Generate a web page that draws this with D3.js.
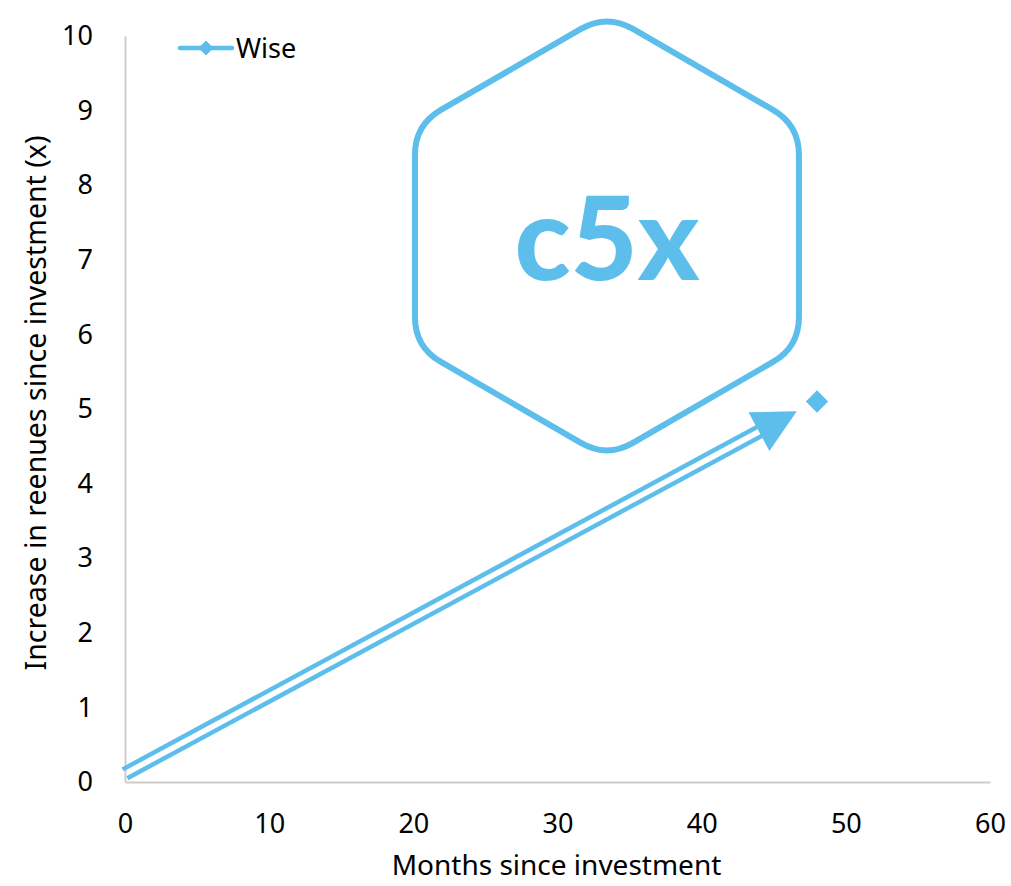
<!DOCTYPE html>
<html>
<head>
<meta charset="utf-8">
<script src="https://cdn.jsdelivr.net/npm/d3@7"></script>
<style>
  html, body { margin: 0; padding: 0; background: #fff; }
  svg { display: block; }
</style>
</head>
<body>
<svg id="chart" width="1011" height="886"></svg>
<script>
// ---- data ----
const seriesName = "Wise";
const months = [48];
const revenueMultiple = [5.1];
const xTicks = [0, 10, 20, 30, 40, 50, 60];
const yTicks = [0, 1, 2, 3, 4, 5, 6, 7, 8, 9, 10];
const xTitle = "Months since investment";
const yTitle = "Increase in reenues since investment (x)";
const badgeText = "c5x";
const arrowFrom = [0, 0.11];
const arrowTo = [46.6, 4.97];
const badgeCenter = [33.43, 7.32];

// ---- layout ----
const color = "#5EBEEB";
const axisColor = "#D0CCCC";
const font = "'Noto Sans', 'Open Sans', sans-serif";
const svg = d3.select("#chart");
const x = d3.scaleLinear().domain([0, 60]).range([125, 990]);
const y = d3.scaleLinear().domain([0, 10]).range([782, 36]);

// axes
const xAxis = svg.append("g").attr("transform", `translate(0,${y(0)})`)
  .call(d3.axisBottom(x).tickValues(xTicks).tickSize(0).tickPadding(32).tickFormat(d3.format("d")));
const yAxis = svg.append("g").attr("transform", `translate(${x(0)},0)`)
  .call(d3.axisLeft(y).tickValues(yTicks).tickSize(0).tickPadding(32).tickFormat(d3.format("d")));
[xAxis, yAxis].forEach(g => {
  g.select(".domain").attr("stroke", axisColor).attr("stroke-width", 2);
  g.selectAll("text").attr("font-family", font).attr("font-size", 27).attr("fill", "#000");
});

// axis titles
svg.append("text").attr("x", (x(0) + x(60)) / 2 - 1).attr("y", 875)
  .attr("text-anchor", "middle").attr("font-family", font).attr("font-size", 28)
  .attr("fill", "#000").text(xTitle);
svg.append("text").attr("transform", `translate(46,${(y(0) + y(10)) / 2 - 6}) rotate(-90)`)
  .attr("text-anchor", "middle").attr("font-family", font).attr("font-size", 28.5)
  .attr("fill", "#000").text(yTitle);

// hexagon badge
const cx = x(badgeCenter[0]), cy = y(badgeCenter[1]);
const hr = 222, hw = 192, r = 30;
const verts = [
  [cx, cy - hr], [cx + hw, cy - hr / 2], [cx + hw, cy + hr / 2],
  [cx, cy + hr], [cx - hw, cy + hr / 2], [cx - hw, cy - hr / 2]
];
function roundedPoly(pts, rad) {
  let d = "";
  const n = pts.length;
  for (let i = 0; i < n; i++) {
    const p0 = pts[(i - 1 + n) % n], p1 = pts[i], p2 = pts[(i + 1) % n];
    const v1 = [p0[0] - p1[0], p0[1] - p1[1]], v2 = [p2[0] - p1[0], p2[1] - p1[1]];
    const l1 = Math.hypot(...v1), l2 = Math.hypot(...v2);
    const a = [p1[0] + v1[0] / l1 * rad, p1[1] + v1[1] / l1 * rad];
    const b = [p1[0] + v2[0] / l2 * rad, p1[1] + v2[1] / l2 * rad];
    d += (i === 0 ? "M" : "L") + a[0] + "," + a[1] + "Q" + p1[0] + "," + p1[1] + " " + b[0] + "," + b[1];
  }
  return d + "Z";
}
svg.append("path").attr("d", roundedPoly(verts, r))
  .attr("fill", "none").attr("stroke", color).attr("stroke-width", 6);
svg.append("text").attr("x", cx).attr("y", 280).attr("text-anchor", "middle")
  .attr("font-family", "Lato, 'Open Sans', sans-serif").attr("font-weight", 900)
  .attr("font-size", 116).attr("fill", color).text(badgeText);

// double-line arrow
const p0 = [x(arrowFrom[0]), y(arrowFrom[1])], p1 = [x(arrowTo[0]), y(arrowTo[1])];
const L = Math.hypot(p1[0] - p0[0], p1[1] - p0[1]);
const u = [(p1[0] - p0[0]) / L, (p1[1] - p0[1]) / L];
const nrm = [-u[1], u[0]];
const headLen = 43, headHalf = 22, gap = 5;
const base = [p1[0] - u[0] * headLen, p1[1] - u[1] * headLen];
[-1, 1].forEach(s => {
  svg.append("line")
    .attr("x1", p0[0] + nrm[0] * gap * s).attr("y1", p0[1] + nrm[1] * gap * s)
    .attr("x2", base[0] + u[0] * 2 + nrm[0] * gap * s).attr("y2", base[1] + u[1] * 2 + nrm[1] * gap * s)
    .attr("stroke", color).attr("stroke-width", 4.5);
});
svg.append("path").attr("d", d3.line()([
  p1,
  [base[0] + nrm[0] * headHalf, base[1] + nrm[1] * headHalf],
  [base[0] - nrm[0] * headHalf, base[1] - nrm[1] * headHalf]
]) + "Z").attr("fill", color);

// series markers
svg.selectAll(".pt").data(months.map((m, i) => [m, revenueMultiple[i]])).enter()
  .append("path").attr("class", "pt")
  .attr("transform", d => `translate(${x(d[0])},${y(d[1])}) rotate(45)`)
  .attr("d", d3.symbol().type(d3.symbolSquare).size(250)).attr("fill", color);

// legend
const lg = svg.append("g");
lg.append("line").attr("x1", 180).attr("x2", 232).attr("y1", 48).attr("y2", 48)
  .attr("stroke", color).attr("stroke-width", 4.5).attr("stroke-linecap", "round");
lg.append("path").attr("transform", "translate(206,48) rotate(45)")
  .attr("d", d3.symbol().type(d3.symbolSquare).size(110)).attr("fill", color);
lg.append("text").attr("x", 236).attr("y", 58).attr("font-family", font).attr("font-size", 27)
  .attr("fill", "#000").text(seriesName);
</script>
</body>
</html>
